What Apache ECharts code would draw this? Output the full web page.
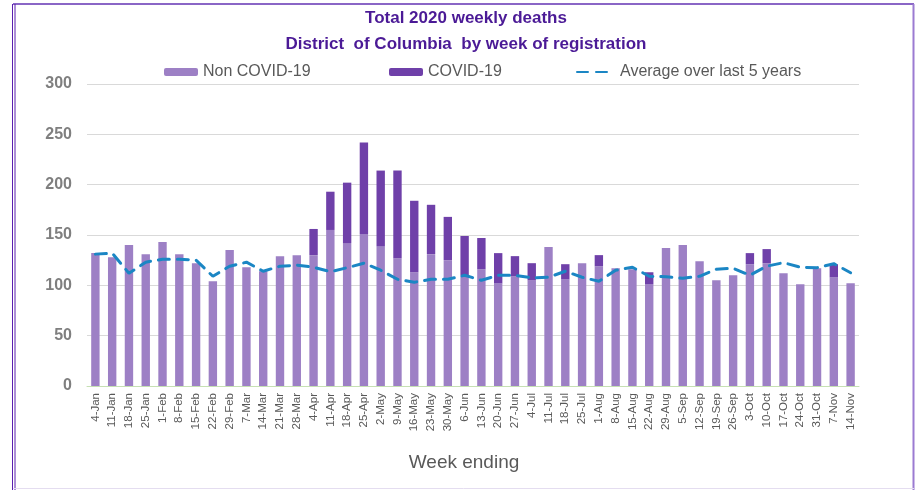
<!DOCTYPE html>
<html>
<head>
<meta charset="utf-8">
<script src="https://cdn.jsdelivr.net/npm/echarts@6/dist/echarts.min.js"></script>
<style>
  html, body { margin: 0; padding: 0; background: #fff; }
  #chart { width: 919px; height: 490px; }
</style>
</head>
<body>
<div id="chart"></div>
<script>
  // week ending dates
  var weeks = ['4-Jan', '11-Jan', '18-Jan', '25-Jan', '1-Feb', '8-Feb', '15-Feb', '22-Feb', '29-Feb',
    '7-Mar', '14-Mar', '21-Mar', '28-Mar', '4-Apr', '11-Apr', '18-Apr', '25-Apr', '2-May', '9-May',
    '16-May', '23-May', '30-May', '6-Jun', '13-Jun', '20-Jun', '27-Jun', '4-Jul', '11-Jul', '18-Jul',
    '25-Jul', '1-Aug', '8-Aug', '15-Aug', '22-Aug', '29-Aug', '5-Sep', '12-Sep', '19-Sep', '26-Sep',
    '3-Oct', '10-Oct', '17-Oct', '24-Oct', '31-Oct', '7-Nov', '14-Nov']

  var nonCovid = [132, 128, 140, 131, 143, 131, 122, 104, 135, 118, 114, 129, 130, 130, 155, 142, 151,
    139, 127, 113, 131, 125, 110, 116, 102, 109, 105, 138, 106, 122, 119, 117, 116, 101, 137, 140,
    124, 105, 110, 121, 122, 112, 101, 117, 108, 102]

  var covid = [0, 0, 0, 0, 0, 0, 0, 0, 0, 0, 0, 0, 0, 26, 38, 60, 91, 75, 87, 71, 49, 43, 39, 31, 30,
    20, 17, 0, 15, 0, 11, 0, 0, 12, 0, 0, 0, 0, 0, 11, 14, 0, 0, 0, 13, 0]

  var avg5yr = [131, 132, 112, 123, 126, 126, 125, 109, 119, 123, 114, 119, 120, 118, 113.5, 117.5, 122,
    115, 106, 103, 106, 106, 110, 105, 110, 110, 107.5, 108, 114, 108, 104, 115, 118, 109, 108.5, 107,
    109, 116, 117, 110, 119, 122.5, 118, 117.5, 121.5, 112.5]

  var yTicks = { min: 0, max: 300, interval: 50 }

  var font = '"Liberation Sans", Arial, sans-serif'
  var chart = echarts.init(document.getElementById('chart'), null, { renderer: 'canvas' })

  var legendBase = {
    top: 59,
    itemWidth: 34,
    itemHeight: 8,
    textStyle: { fontFamily: font, fontSize: 16, color: '#595959' }
  }

  chart.setOption({
    animation: false,
    backgroundColor: '#fff',
    textStyle: { fontFamily: font },
    title: [{
      text: 'Total 2020 weekly deaths\nDistrict  of Columbia  by week of registration',
      left: 461,
      top: 0,
      textAlign: 'center',
      textStyle: { fontFamily: font, fontSize: 17, fontWeight: 'bold', color: '#4b1a96', lineHeight: 26 }
    }, {
      text: 'Week ending',
      left: 459,
      top: 448,
      textAlign: 'center',
      textStyle: { fontFamily: font, fontSize: 19, fontWeight: 'normal', color: '#595959' }
    }],
    legend: [
      Object.assign({}, legendBase, { left: 159, data: ['Non COVID-19'] }),
      Object.assign({}, legendBase, { left: 384, data: ['COVID-19'] }),
      Object.assign({}, legendBase, {
        left: 571,
        itemWidth: 38,
        data: [{ name: 'Average over last 5 years', itemStyle: { opacity: 0 } }]
      })
    ],
    grid: { left: 87, right: 60, top: 84, bottom: 104 },
    xAxis: {
      type: 'category',
      data: weeks,
      axisTick: { show: false },
      axisLine: { lineStyle: { color: '#c6e0b4', width: 1 } },
      axisLabel: {
        interval: 0,
        rotate: 90,
        margin: 7,
        fontSize: 11.5,
        color: '#595959',
        fontFamily: font
      }
    },
    yAxis: {
      type: 'value',
      min: yTicks.min,
      max: yTicks.max,
      interval: yTicks.interval,
      axisLine: { show: false },
      axisTick: { show: false },
      splitLine: { lineStyle: { color: '#d9d9d9', width: 1 } },
      axisLabel: { fontSize: 16, fontWeight: 'bold', color: '#7f7f7f', margin: 15, fontFamily: font }
    },
    series: [{
      name: 'Non COVID-19',
      type: 'bar',
      stack: 'deaths',
      data: nonCovid,
      barCategoryGap: '50%',
      itemStyle: { color: '#9d80c5' }
    }, {
      name: 'COVID-19',
      type: 'bar',
      stack: 'deaths',
      data: covid,
      itemStyle: { color: '#6f40a9' }
    }, {
      name: 'Average over last 5 years',
      type: 'line',
      data: avg5yr,
      symbol: 'none',
      lineStyle: { color: '#1b86c4', width: 3, type: [11, 8], cap: 'round' },
      itemStyle: { color: '#1b86c4' },
      z: 5
    }],
    graphic: [
      { type: 'line', shape: { x1: 13, y1: 4, x2: 914, y2: 4 }, style: { stroke: '#8a66c6', lineWidth: 2 } },
      { type: 'line', shape: { x1: 12.5, y1: 4, x2: 12.5, y2: 490 }, style: { stroke: '#5a1fae', lineWidth: 1 } },
      { type: 'line', shape: { x1: 15, y1: 4, x2: 15, y2: 490 }, style: { stroke: '#5a1fae', lineWidth: 1 } },
      { type: 'line', shape: { x1: 913.5, y1: 4, x2: 913.5, y2: 490 }, style: { stroke: '#9b7bd2', lineWidth: 2 } },
      { type: 'line', shape: { x1: 13, y1: 488.5, x2: 914, y2: 488.5 }, style: { stroke: '#e4ddf0', lineWidth: 1 } }
    ]
  })
</script>
</body>
</html>
